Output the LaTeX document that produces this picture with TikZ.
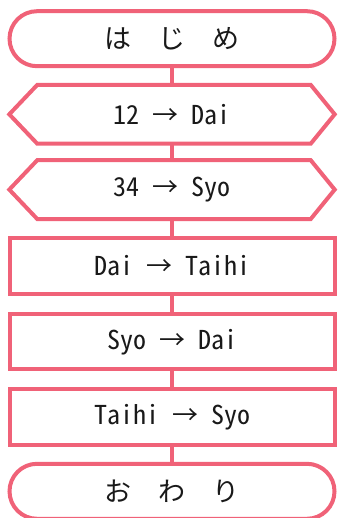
\documentclass[tikz,border=0pt]{standalone}
\usepackage{fontspec}
\setmainfont{Noto Sans CJK JP}[RawFeature=+hwid]
\usetikzlibrary{calc}
\definecolor{flowpink}{RGB}{240,98,120}
\newcommand{\hs}{\hspace{0.5em}}
\newcommand{\fs}{\hspace{1em}}
\begin{document}
\begin{tikzpicture}[x=1pt,y=-1pt,
  every node/.style={font=\fontsize{26}{30}\selectfont, text=black!90},
  jp/.style={font=\fontsize{27}{30}\selectfont},
  shp/.style={line width=4pt, draw=flowpink},
  term/.style={shp, rectangle, rounded corners=27.5pt, minimum width=325pt, minimum height=55pt, inner sep=0pt},
  proc/.style={shp, rectangle, minimum width=325pt, minimum height=55.5pt, inner sep=0pt},
  prep/.style={rectangle, minimum width=325pt, minimum height=58.5pt, inner sep=0pt},
  conn/.style={line width=4pt, draw=flowpink}]
\useasboundingbox (0,0) rectangle (337,518);
\node[term,jp] (t1) at (172,38.7) {は\fs じ\fs め};
\node[prep] (h1) at (172,114.3) {12\hs →\hs Dai};
\node[prep] (h2) at (172,189.6) {34\hs →\hs Syo};
\node[proc] (p1) at (172,266) {Dai\hs →\hs Taihi};
\node[proc] (p2) at (172,341.7) {Syo\hs →\hs Dai};
\node[proc] (p3) at (172,417) {Taihi\hs →\hs Syo};
\node[term,jp] (t2) at (172,491.3) {お\fs わ\fs り};
\foreach \h in {h1,h2}{
  \draw[shp] (\h.west) -- ($(\h.north west)+(28,0)$) -- ($(\h.north east)+(-24,0)$) -- (\h.east)
    -- ($(\h.south east)+(-24,0)$) -- ($(\h.south west)+(28,0)$) -- cycle;
}
\draw[conn] (t1.south) -- (h1.north);
\draw[conn] (h1.south) -- (h2.north);
\draw[conn] (h2.south) -- (p1.north);
\draw[conn] (p1.south) -- (p2.north);
\draw[conn] (p2.south) -- (p3.north);
\draw[conn] (p3.south) -- (t2.north);
\end{tikzpicture}
\end{document}
